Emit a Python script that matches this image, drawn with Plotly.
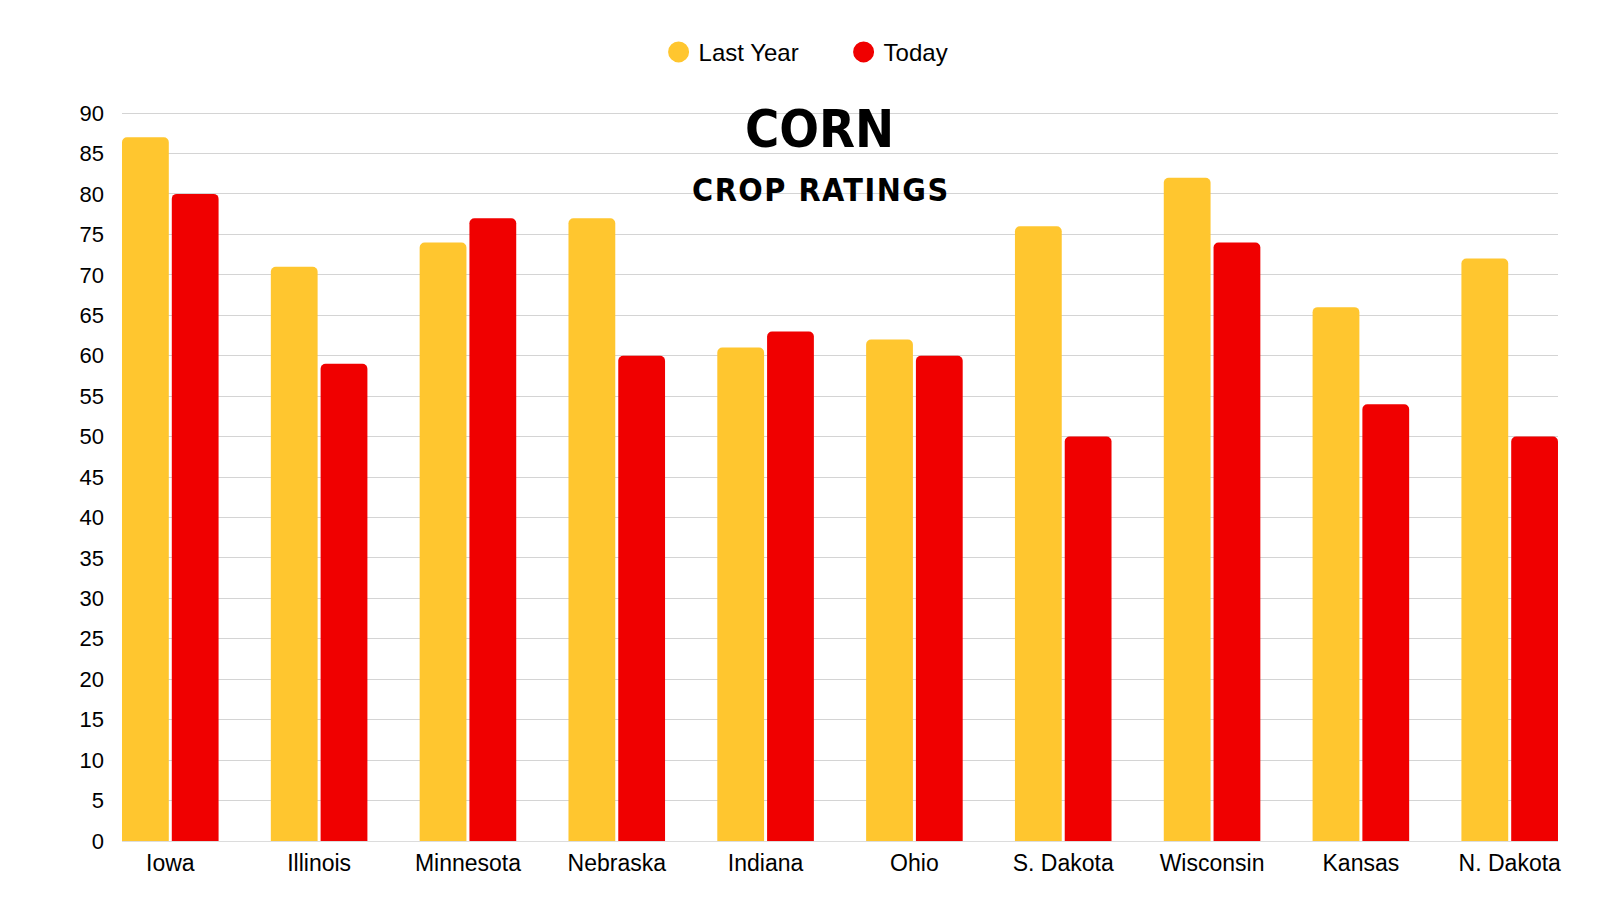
import plotly.graph_objects as go

# corn crop ratings
states = [
    "Iowa",
    "Illinois",
    "Minnesota",
    "Nebraska",
    "Indiana",
    "Ohio",
    "S. Dakota",
    "Wisconsin",
    "Kansas",
    "N. Dakota",
]
last_year = [87, 71, 74, 77, 61, 62, 76, 82, 66, 72]
today = [80, 59, 77, 60, 63, 60, 50, 74, 54, 50]
y_ticks = list(range(0, 95, 5))

YELLOW = "#FFC62F"
RED = "#F00000"
LABEL_FONT = "Liberation Sans, Arial, sans-serif"
TITLE_FONT = "DejaVu Sans Condensed, sans-serif"

# plot area in page pixels (the page body adds 8px)
PLOT_TOP = 111
PLOT_H = 730

fig = go.Figure()

fig.add_trace(
    go.Bar(
        name="Last Year",
        x=states,
        y=last_year,
        marker=dict(color=YELLOW, cornerradius=5, line=dict(width=0)),
        showlegend=False,
    )
)
fig.add_trace(
    go.Bar(
        name="Today",
        x=states,
        y=today,
        marker=dict(color=RED, cornerradius=5, line=dict(width=0)),
        showlegend=False,
    )
)

# circle legend entries (bars would give squares); outline makes the dot bigger
for name, colour in [("Last Year", YELLOW), ("Today", RED)]:
    fig.add_trace(
        go.Scatter(
            name=name,
            x=[None],
            y=[None],
            mode="markers",
            marker=dict(
                color=colour, size=16, symbol="circle", line=dict(color=colour, width=5)
            ),
            showlegend=True,
        )
    )

fig.update_layout(
    barmode="group",
    bargap=0.331,
    bargroupgap=0.06,
    plot_bgcolor="white",
    paper_bgcolor="white",
    width=1600,
    height=900,
    margin=dict(l=114, r=50, t=103, b=67),
    font=dict(family=LABEL_FONT, size=22, color="#000000"),
    hovermode=False,
    legend=dict(
        orientation="h",
        x=0.5025,
        xanchor="center",
        y=1 + (PLOT_TOP - 52.3) / PLOT_H,
        yanchor="middle",
        font=dict(family=LABEL_FONT, size=24, color="#000000"),
        itemsizing="trace",
        entrywidth=140,
        bgcolor="rgba(0,0,0,0)",
    ),
)

fig.add_annotation(
    text="CORN",
    xref="paper",
    yref="paper",
    x=0.486,
    y=1 - (129 - PLOT_TOP) / PLOT_H,
    xanchor="center",
    yanchor="middle",
    showarrow=False,
    font=dict(family=TITLE_FONT, size=52, weight="bold", color="#000000"),
)
fig.add_annotation(
    text='<span style="letter-spacing:1.5px">CROP RATINGS</span>',
    xref="paper",
    yref="paper",
    x=0.4865,
    y=1 - (189.5 - PLOT_TOP) / PLOT_H,
    xanchor="center",
    yanchor="middle",
    showarrow=False,
    font=dict(family=TITLE_FONT, size=32, weight="bold", color="#000000"),
)

fig.update_xaxes(
    range=[-0.3245, len(states) - 1 + 0.3245],
    showgrid=False,
    showline=False,
    zeroline=False,
    ticks="",
    ticklabelstandoff=6,
    tickfont=dict(family=LABEL_FONT, size=23, color="#000000"),
)

fig.update_yaxes(
    range=[0, 90.25],
    tickvals=y_ticks,
    ticktext=[str(v) for v in y_ticks],
    showgrid=True,
    gridcolor="#d4d4d4",
    gridwidth=1,
    zeroline=True,
    zerolinecolor="#dcdcdc",
    zerolinewidth=1,
    showline=False,
    ticks="",
    ticklabelstandoff=17,
    tickfont=dict(family=LABEL_FONT, size=22, color="#000000"),
)

fig.write_html("out.html")
